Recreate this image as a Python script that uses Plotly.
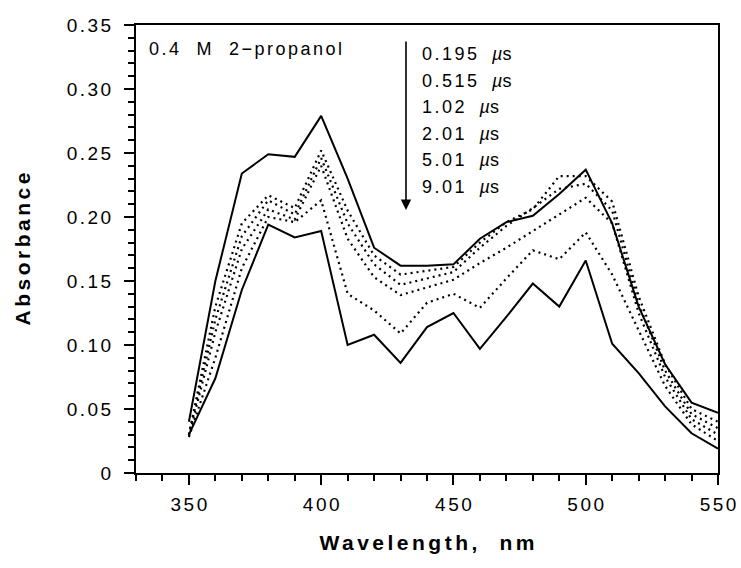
import plotly.graph_objects as go

wavelength = [350, 360, 370, 380, 390, 400, 410, 420, 430, 440, 450,
              460, 470, 480, 490, 500, 510, 520, 530, 540, 550]

abs_0195 = [0.040, 0.150, 0.234, 0.249, 0.247, 0.279, 0.230, 0.176, 0.162, 0.162, 0.163,
            0.183, 0.196, 0.201, 0.218, 0.237, 0.195, 0.130, 0.085, 0.055, 0.047]
abs_0515 = [0.030, 0.130, 0.195, 0.217, 0.207, 0.252, 0.205, 0.170, 0.155, 0.158, 0.161,
            0.180, 0.196, 0.206, 0.232, 0.232, 0.212, 0.138, 0.085, 0.050, 0.040]
abs_102 = [0.030, 0.120, 0.185, 0.213, 0.202, 0.246, 0.195, 0.163, 0.147, 0.152, 0.157,
           0.176, 0.193, 0.207, 0.222, 0.226, 0.205, 0.132, 0.080, 0.046, 0.035]
abs_201 = [0.029, 0.110, 0.175, 0.206, 0.198, 0.240, 0.183, 0.153, 0.139, 0.145, 0.151,
           0.164, 0.176, 0.189, 0.202, 0.215, 0.195, 0.125, 0.075, 0.042, 0.030]
abs_501 = [0.028, 0.090, 0.160, 0.200, 0.196, 0.213, 0.140, 0.127, 0.109, 0.133, 0.140,
           0.129, 0.152, 0.174, 0.167, 0.188, 0.155, 0.112, 0.068, 0.038, 0.025]
abs_901 = [0.030, 0.074, 0.143, 0.194, 0.184, 0.189, 0.100, 0.108, 0.086, 0.114, 0.125,
           0.097, 0.122, 0.148, 0.130, 0.166, 0.101, 0.078, 0.052, 0.031, 0.019]

series = [abs_0195, abs_0515, abs_102, abs_201, abs_501, abs_901]
styles = ["solid", "2px,4px", "2px,4px", "2px,4px", "2px,4px", "solid"]
legend_times = ["0.195", "0.515", "1.02", "2.01", "5.01", "9.01"]

x_ticks = [350, 400, 450, 500, 550]
x_ticklabels = ["350", "400", "450", "500", "550"]
y_ticks = [0, 0.05, 0.10, 0.15, 0.20, 0.25, 0.30, 0.35]
y_ticklabels = ["0", "0.05", "0.10", "0.15", "0.20", "0.25", "0.30", "0.35"]

FONT = "Liberation Sans, Arial, sans-serif"
NB = "\u00a0"


def spaced(s, ls):
    # letter spacing on all but the last character, so alignment stays tight
    if len(s) <= 1:
        return s
    return f"<span style='letter-spacing:{ls}px'>{s[:-1]}</span>{s[-1]}"


fig = go.Figure()
for vals, dash in zip(series, styles):
    fig.add_trace(go.Scatter(
        x=wavelength, y=vals, mode="lines",
        line=dict(color="black", width=2 if dash == "solid" else 2.2, dash=dash),
        showlegend=False, hoverinfo="skip"))

axis_common = dict(
    showline=True, linecolor="black", linewidth=2, mirror=True,
    ticks="outside", ticklen=10, tickwidth=1.5, tickcolor="black",
    showgrid=False, zeroline=False,
    tickfont=dict(family=FONT, size=19, color="black"),
)

fig.update_xaxes(
    range=[330, 550], tickvals=x_ticks,
    ticktext=[spaced(t, 2.5) for t in x_ticklabels],
    ticklabelstandoff=3,
    minor=dict(dtick=10, tick0=330, ticks="outside", ticklen=6, tickwidth=1.5, tickcolor="black"),
    title=dict(text="<b>" + spaced("Wavelength," + NB + NB + "nm", 3.5) + "</b>",
               font=dict(family=FONT, size=21, color="black"), standoff=22),
    **axis_common)
fig.update_yaxes(
    range=[0, 0.35], tickvals=y_ticks,
    ticktext=[spaced(t, 2.5) for t in y_ticklabels],
    ticklabelstandoff=9,
    minor=dict(dtick=0.01, tick0=0, ticks="outside", ticklen=6, tickwidth=1.5, tickcolor="black"),
    title=dict(text="<b>" + spaced("Absorbance", 3.5) + "</b>",
               font=dict(family=FONT, size=21, color="black"), standoff=30),
    **axis_common)

L, R, T, B = 136, 23, 25, 95
W, H = 741, 568
pw, ph = W - L - R, H - T - B


def px(xp):
    return (xp - L) / pw


def py(yp):
    return (H - B - yp) / ph


fig.add_annotation(x=px(147), y=py(49), xref="paper", yref="paper",
                   text=spaced("0.4" + NB + NB + "M" + NB + NB + "2\u2212propanol", 2.5),
                   showarrow=False, xanchor="left", yanchor="middle",
                   font=dict(family=FONT, size=18, color="black"))

for i, t in enumerate(legend_times):
    fig.add_annotation(x=px(420), y=py(54 + 26.5 * i), xref="paper", yref="paper",
                       text=spaced(t + NB + NB, 2.5) + "<i>µ</i>s", showarrow=False,
                       xanchor="left", yanchor="middle",
                       font=dict(family=FONT, size=18, color="black"))

fig.add_annotation(x=px(406), y=py(210), xref="paper", yref="paper",
                   ax=0, ay=-170, axref="pixel", ayref="pixel",
                   text="", showarrow=True, arrowhead=2, arrowsize=1.3,
                   arrowwidth=1.6, arrowcolor="black")

fig.update_layout(
    width=W, height=H,
    margin=dict(l=L, r=R, t=T, b=B, autoexpand=False),
    paper_bgcolor="white", plot_bgcolor="white",
    font=dict(family=FONT, color="black"),
)

fig.write_html("out.html", config={"displayModeBar": False},
               post_script="document.body.style.margin='0';document.body.style.padding='0';")
